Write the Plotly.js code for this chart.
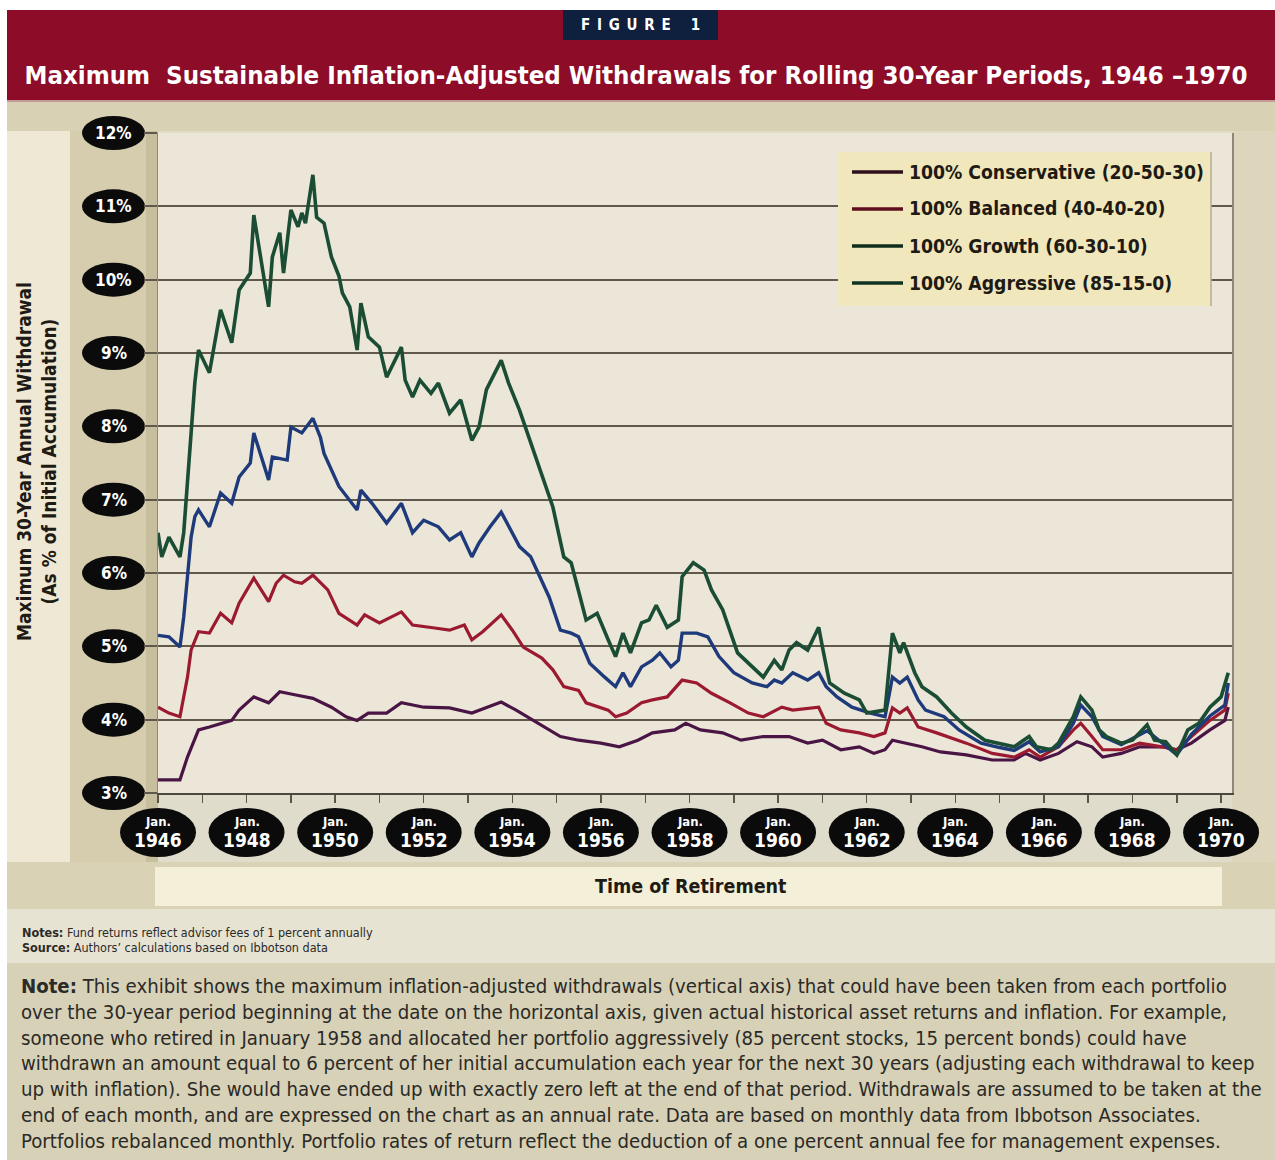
<!DOCTYPE html>
<html><head><meta charset="utf-8">
<script src="https://cdn.plot.ly/plotly-3.0.1.min.js"></script>
<style>html,body{margin:0;padding:0;background:#ffffff}</style>
</head><body>
<div id="chart" style="width:1275px;height:1160px"></div>
<script>
// ---------------- DATA ----------------
const seriesNames = ['100% Conservative (20-50-30)', '100% Balanced (40-40-20)', '100% Growth (60-30-10)', '100% Aggressive (85-15-0)'];

const conservativeX = ['1946-01','1946-04','1946-07','1946-09','1946-12','1947-03','1947-06','1947-09','1947-11','1948-03','1948-07','1948-10','1949-02','1949-07','1949-12','1950-04','1950-07','1950-10','1951-03','1951-07','1952-01','1952-08','1953-02','1953-10','1954-02','1954-08','1955-02','1955-07','1956-01','1956-06','1956-11','1957-03','1957-09','1957-12','1958-04','1958-10','1959-03','1959-09','1960-04','1960-09','1961-01','1961-06','1961-11','1962-03','1962-06','1962-08','1962-12','1963-04','1963-09','1964-04','1964-11','1965-05','1965-08','1965-12','1966-05','1966-10','1967-02','1967-05','1967-10','1968-03','1968-09','1969-01','1969-05','1969-10','1970-02','1970-03'];
const conservativeY = [3.18,3.18,3.18,3.49,3.86,3.90,3.95,3.99,4.13,4.31,4.23,4.38,4.34,4.29,4.17,4.04,3.99,4.09,4.09,4.23,4.17,4.16,4.09,4.24,4.13,3.95,3.77,3.72,3.68,3.63,3.72,3.82,3.86,3.95,3.86,3.82,3.72,3.77,3.77,3.68,3.72,3.59,3.63,3.54,3.59,3.72,3.68,3.63,3.56,3.52,3.45,3.45,3.54,3.45,3.54,3.70,3.63,3.49,3.54,3.63,3.63,3.59,3.68,3.86,3.99,4.17];

const balancedX = ['1946-01','1946-04','1946-07','1946-09','1946-10','1946-12','1947-03','1947-06','1947-09','1947-11','1948-03','1948-07','1948-09','1948-11','1949-02','1949-04','1949-07','1949-11','1950-02','1950-07','1950-09','1951-01','1951-07','1951-10','1952-04','1952-08','1952-12','1953-02','1953-05','1953-10','1954-01','1954-04','1954-09','1954-12','1955-03','1955-07','1955-09','1956-03','1956-05','1956-08','1956-12','1957-03','1957-07','1957-11','1958-03','1958-07','1958-12','1959-05','1959-09','1960-02','1960-05','1960-12','1961-02','1961-06','1961-11','1962-03','1962-06','1962-08','1962-10','1962-12','1963-03','1963-08','1964-04','1964-11','1965-05','1965-09','1965-12','1966-05','1966-09','1966-11','1967-02','1967-05','1967-10','1968-03','1968-09','1969-01','1969-05','1969-10','1970-02','1970-03'];
const balancedY = [4.17,4.09,4.04,4.58,4.95,5.20,5.18,5.45,5.32,5.59,5.93,5.61,5.86,5.97,5.88,5.86,5.97,5.77,5.45,5.29,5.43,5.32,5.47,5.29,5.25,5.22,5.29,5.09,5.20,5.43,5.22,4.99,4.84,4.68,4.45,4.40,4.23,4.13,4.04,4.09,4.23,4.27,4.31,4.54,4.50,4.36,4.23,4.09,4.04,4.17,4.13,4.17,3.95,3.86,3.82,3.77,3.82,4.16,4.09,4.16,3.90,3.82,3.68,3.54,3.49,3.59,3.49,3.63,3.86,3.95,3.77,3.59,3.59,3.68,3.63,3.59,3.77,3.99,4.13,4.36];

const growthX = ['1946-01','1946-04','1946-07','1946-08','1946-09','1946-10','1946-11','1946-12','1947-03','1947-06','1947-09','1947-11','1948-02','1948-03','1948-07','1948-08','1948-12','1949-01','1949-04','1949-07','1949-09','1949-10','1950-02','1950-07','1950-08','1950-11','1951-03','1951-05','1951-07','1951-10','1952-01','1952-05','1952-08','1952-11','1953-02','1953-04','1953-07','1953-10','1953-12','1954-03','1954-06','1954-09','1954-11','1955-02','1955-05','1955-07','1955-10','1956-02','1956-05','1956-07','1956-09','1956-12','1957-03','1957-05','1957-08','1957-10','1957-11','1958-03','1958-06','1958-09','1959-01','1959-06','1959-10','1959-12','1960-02','1960-05','1960-09','1960-12','1961-02','1961-05','1961-09','1962-02','1962-06','1962-08','1962-10','1962-12','1963-03','1963-05','1963-10','1964-02','1964-08','1965-01','1965-05','1965-09','1965-12','1966-05','1966-09','1966-11','1967-02','1967-05','1967-10','1968-05','1968-09','1969-01','1969-05','1969-10','1970-02','1970-03'];
const growthY = [5.15,5.13,4.99,5.40,5.95,6.49,6.77,6.86,6.63,7.09,6.95,7.31,7.50,7.91,7.27,7.58,7.54,7.99,7.91,8.11,7.85,7.63,7.18,6.86,7.13,6.95,6.68,6.82,6.95,6.55,6.72,6.63,6.45,6.55,6.22,6.41,6.63,6.83,6.63,6.36,6.22,5.90,5.67,5.22,5.18,5.13,4.77,4.58,4.45,4.64,4.45,4.72,4.81,4.91,4.72,4.81,5.18,5.18,5.13,4.86,4.64,4.50,4.45,4.54,4.50,4.64,4.54,4.64,4.45,4.31,4.17,4.09,4.04,4.58,4.50,4.58,4.27,4.13,4.04,3.86,3.68,3.62,3.58,3.70,3.56,3.63,3.95,4.20,4.04,3.77,3.66,3.85,3.68,3.52,3.80,4.05,4.20,4.50];

const aggressiveX = ['1946-01','1946-02','1946-04','1946-07','1946-08','1946-09','1946-10','1946-11','1946-12','1947-03','1947-06','1947-09','1947-11','1948-02','1948-03','1948-05','1948-07','1948-08','1948-10','1948-11','1949-01','1949-03','1949-04','1949-05','1949-07','1949-08','1949-10','1949-12','1950-02','1950-03','1950-05','1950-07','1950-08','1950-10','1951-01','1951-03','1951-07','1951-08','1951-10','1951-12','1952-03','1952-05','1952-08','1952-11','1953-02','1953-04','1953-06','1953-10','1953-12','1954-03','1954-06','1954-09','1954-12','1955-03','1955-05','1955-09','1955-12','1956-03','1956-05','1956-07','1956-09','1956-12','1957-02','1957-04','1957-07','1957-10','1957-11','1958-02','1958-05','1958-07','1958-10','1959-02','1959-05','1959-09','1959-12','1960-02','1960-04','1960-06','1960-09','1960-12','1961-01','1961-03','1961-07','1961-11','1962-01','1962-06','1962-08','1962-10','1962-11','1963-02','1963-04','1963-08','1963-12','1964-04','1964-09','1965-01','1965-05','1965-09','1965-11','1966-03','1966-05','1966-09','1966-11','1967-02','1967-04','1967-06','1967-10','1968-01','1968-05','1968-07','1968-10','1969-01','1969-04','1969-07','1969-10','1970-01','1970-03'];
const aggressiveY = [6.55,6.22,6.49,6.22,6.55,7.23,8.00,8.60,9.04,8.73,9.59,9.14,9.86,10.09,10.88,10.23,9.63,10.31,10.64,10.09,10.95,10.72,10.91,10.77,11.43,10.85,10.77,10.31,10.05,9.82,9.63,9.04,9.68,9.22,9.08,8.67,9.08,8.63,8.40,8.63,8.45,8.59,8.18,8.36,7.81,7.99,8.50,8.90,8.59,8.22,7.77,7.31,6.90,6.22,6.14,5.36,5.45,5.09,4.86,5.18,4.91,5.32,5.36,5.56,5.26,5.36,5.95,6.14,6.04,5.77,5.50,4.91,4.77,4.58,4.81,4.68,4.95,5.05,4.95,5.26,4.99,4.50,4.36,4.27,4.09,4.13,5.18,4.91,5.05,4.64,4.45,4.31,4.09,3.90,3.72,3.68,3.63,3.77,3.63,3.59,3.68,4.04,4.31,4.13,3.86,3.77,3.68,3.72,3.93,3.72,3.70,3.52,3.86,3.95,4.17,4.31,4.64];

const yTickValues = [3,4,5,6,7,8,9,10,11,12];
const yTickLabels = ['3%','4%','5%','6%','7%','8%','9%','10%','11%','12%'];
const xTickYears = [1946,1947,1948,1949,1950,1951,1952,1953,1954,1955,1956,1957,1958,1959,1960,1961,1962,1963,1964,1965,1966,1967,1968,1969,1970];
const xLabelYears = [1946,1948,1950,1952,1954,1956,1958,1960,1962,1964,1966,1968,1970];
const xLabelMonth = 'Jan.';

const titleText = 'Maximum  Sustainable Inflation-Adjusted Withdrawals for Rolling 30-Year Periods, 1946 \u20131970';
const figureLabel = 'F\u2002I\u2002G\u2002U\u2002R\u2002E\u2003\u20021';
const yTitleLines = ['Maximum 30-Year Annual Withdrawal', '(As % of Initial Accumulation)'];
const xTitle = 'Time of Retirement';
const footNotes = ['<b>Notes:</b> Fund returns reflect advisor fees of 1 percent annually', '<b>Source:</b> Authors\u2019 calculations based on Ibbotson data'];
const noteLines = [
  '<b>Note:</b> This exhibit shows the maximum inflation-adjusted withdrawals (vertical axis) that could have been taken from each portfolio',
  'over the 30-year period beginning at the date on the horizontal axis, given actual historical asset returns and inflation. For example,',
  'someone who retired in January 1958 and allocated her portfolio aggressively (85 percent stocks, 15 percent bonds) could have',
  'withdrawn an amount equal to 6 percent of her initial accumulation each year for the next 30 years (adjusting each withdrawal to keep',
  'up with inflation). She would have ended up with exactly zero left at the end of that period. Withdrawals are assumed to be taken at the',
  'end of each month, and are expressed on the chart as an annual rate. Data are based on monthly data from Ibbotson Associates.',
  'Portfolios rebalanced monthly. Portfolio rates of return reflect the deduction of a one percent annual fee for management expenses.'
];

// ---------------- STYLE ----------------
const FONT = 'DejaVu Sans Condensed, DejaVu Sans, sans-serif';
const lineColors = ['#4a1545', '#9c1a30', '#1e3a7a', '#1a4d34'];
const lineWidths = [3.2, 3.2, 3.4, 3.6];
const legendSwatchColors = ['#2e0f1c', '#5e0f1e', '#0f2c1c', '#0f3322'];
const X_START = '1946-01-01', X_END = '1970-04-01';
const Y_MIN = 3, Y_MAX = 12;
const PLOT_BG = '#ebe6d8';

// page geometry (pixels)
const W = 1275, H = 1160, L = 158, R = 1232, T = 133, B = 793;
const px = p => (p - L) / (R - L);
const py = p => (B - p) / (B - T);
const t0 = Date.parse(X_START), t1 = Date.parse(X_END);
const xFrac = d => (Date.parse(d) - t0) / (t1 - t0);
const yFrac = v => (v - Y_MIN) / (Y_MAX - Y_MIN);

function rect(x0, y0, x1, y1, color, layer) {
  return {type: 'rect', xref: 'paper', yref: 'paper', x0: px(x0), x1: px(x1), y0: py(y1), y1: py(y0),
          fillcolor: color, line: {width: 0}, layer: layer || 'below'};
}

const shapes = [
  rect(7, 10, 1275, 1160, '#e3dcc5'),
  rect(7, 10, 1275, 100, '#8d0c28'),
  rect(7, 100, 1275, 102, '#c49a98'),
  rect(563, 10, 718, 40, '#0f1f3e'),
  rect(7, 102, 1275, 131, '#d9d1b3'),
  rect(7, 131, 70, 862, '#eee8d4'),
  rect(70, 131, 158, 862, '#d5cdad'),
  rect(146, 131, 158, 862, '#c7be9e'),
  rect(1232, 131, 1275, 862, '#ddd6bc'),
  rect(158, 133, 1232, 793, PLOT_BG),
  rect(158, 793, 1232, 862, '#e0dccb'),
  rect(7, 862, 1275, 909, '#d9d2b5'),
  rect(155, 867, 1222, 906, '#f4efd8'),
  rect(7, 909, 1275, 963, '#e7e3d3'),
  rect(7, 963, 1275, 1160, '#d7d1b7')
];

// y tick ellipses
yTickValues.forEach(v => {
  const c = yFrac(v), hh = 17 / (B - T);
  shapes.push({type: 'circle', xref: 'paper', yref: 'paper', x0: px(82), x1: px(145), y0: c - hh, y1: c + hh,
               fillcolor: '#0b0b0b', line: {width: 0}, layer: 'below'});
});
// x tick ellipses
xLabelYears.forEach(yr => {
  const c = xFrac(yr + '-01-01'), hw = 38 / (R - L);
  shapes.push({type: 'circle', xref: 'paper', yref: 'paper', x0: c - hw, x1: c + hw, y0: py(857), y1: py(808),
               fillcolor: '#0b0b0b', line: {width: 0}, layer: 'below'});
});
// legend box
shapes.push({type: 'rect', xref: 'paper', yref: 'paper', x0: px(838), x1: px(1211), y0: py(306), y1: py(152),
             fillcolor: '#f1e7bd', line: {width: 0}, layer: 'above'});
shapes.push({type: 'line', xref: 'paper', yref: 'paper', x0: px(1211), x1: px(1211), y0: py(306), y1: py(152),
             line: {color: '#b3ab93', width: 1.5}, layer: 'above'});
const legendRows = [172, 209, 246, 283];
seriesNames.forEach((n, i) => {
  shapes.push({type: 'line', xref: 'paper', yref: 'paper', x0: px(852), x1: px(903), y0: py(legendRows[i]), y1: py(legendRows[i]),
               line: {color: legendSwatchColors[i], width: 3.5}, layer: 'above'});
});

// ---------------- ANNOTATIONS ----------------
const annotations = [];
annotations.push({xref: 'paper', yref: 'paper', x: px(640), y: py(25), text: '<b>' + figureLabel + '</b>', showarrow: false,
                  xanchor: 'center', yanchor: 'middle', font: {family: FONT, size: 15, color: '#ffffff'}});
yTickValues.forEach((v, i) => {
  annotations.push({xref: 'paper', yref: 'y', x: px(113.5), y: v, text: '<b>' + yTickLabels[i] + '</b>', showarrow: false,
                    xanchor: 'center', yanchor: 'middle', font: {family: FONT, size: 17, color: '#ffffff'}});
});
xLabelYears.forEach(yr => {
  const c = xFrac(yr + '-01-01');
  annotations.push({xref: 'paper', yref: 'paper', x: c, y: py(821), text: '<b>' + xLabelMonth + '</b>', showarrow: false,
                    xanchor: 'center', yanchor: 'middle', font: {family: FONT, size: 13, color: '#ffffff'}});
  annotations.push({xref: 'paper', yref: 'paper', x: c, y: py(840), text: '<b>' + yr + '</b>', showarrow: false,
                    xanchor: 'center', yanchor: 'middle', font: {family: FONT, size: 19, color: '#ffffff'}});
});
annotations.push({xref: 'paper', yref: 'paper', x: px(36), y: py(462), textangle: -90,
                  text: '<b>' + yTitleLines[0] + '</b><br><b>' + yTitleLines[1] + '</b>', showarrow: false,
                  xanchor: 'center', yanchor: 'middle', font: {family: FONT, size: 19, color: '#1e1a14'}});
annotations.push({xref: 'paper', yref: 'paper', x: px(690), y: py(886), text: '<b>' + xTitle + '</b>', showarrow: false,
                  xanchor: 'center', yanchor: 'middle', font: {family: FONT, size: 19.5, color: '#1e1a14'}});
seriesNames.forEach((n, i) => {
  annotations.push({xref: 'paper', yref: 'paper', x: px(907), y: py(legendRows[i]), text: '<b>' + n + '</b>', showarrow: false,
                    xanchor: 'left', yanchor: 'middle', font: {family: FONT, size: 19.2, color: '#1e1a14'}});
});
footNotes.forEach((t, i) => {
  annotations.push({xref: 'paper', yref: 'paper', x: px(20), y: py(932 + 15 * i), text: t, showarrow: false,
                    xanchor: 'left', yanchor: 'middle', font: {family: FONT, size: 12.5, color: '#2b2a26'}});
});
noteLines.forEach((t, i) => {
  annotations.push({xref: 'paper', yref: 'paper', x: px(19), y: py(986 + 25.8 * i), text: t, showarrow: false,
                    xanchor: 'left', yanchor: 'middle', font: {family: FONT, size: 20.2, color: '#2b2a26'}});
});

// ---------------- TRACES ----------------
const xs = [conservativeX, balancedX, growthX, aggressiveX];
const ys = [conservativeY, balancedY, growthY, aggressiveY];
const traces = seriesNames.map((n, i) => ({
  type: 'scatter', mode: 'lines', name: n, x: xs[i], y: ys[i],
  line: {color: lineColors[i], width: lineWidths[i]}, showlegend: false, hoverinfo: 'skip'
}));

const layout = {
  width: W, height: H,
  margin: {l: L, r: W - R, t: T, b: H - B, pad: 0},
  paper_bgcolor: '#ffffff', plot_bgcolor: PLOT_BG,
  font: {family: FONT, color: '#1e1a14'},
  title: {text: '<b>' + titleText + '</b>', xref: 'paper', x: px(636), xanchor: 'center',
          yref: 'container', y: 1 - 75 / H, yanchor: 'middle',
          font: {family: FONT, size: 25.6, color: '#ffffff'}},
  showlegend: false,
  xaxis: {type: 'date', range: [X_START, X_END], tickmode: 'array',
          tickvals: xTickYears.map(y => y + '-01-01'), showticklabels: false,
          ticks: 'outside', ticklen: 8, tickwidth: 1.5, tickcolor: '#5a5448',
          showline: true, linecolor: '#4d483e', linewidth: 2, showgrid: false, zeroline: false, fixedrange: true},
  yaxis: {range: [Y_MIN, Y_MAX], tickmode: 'array', tickvals: yTickValues, showticklabels: false,
          ticks: 'outside', ticklen: 13, tickwidth: 1.7, tickcolor: '#5f584b',
          showgrid: true, gridcolor: '#5f584b', gridwidth: 1.7,
          showline: true, linecolor: '#8f8878', linewidth: 1.5, mirror: true, zeroline: false, fixedrange: true},
  shapes: shapes,
  annotations: annotations
};

Plotly.newPlot('chart', traces, layout, {displayModeBar: false, staticPlot: true});
</script>
</body></html>
